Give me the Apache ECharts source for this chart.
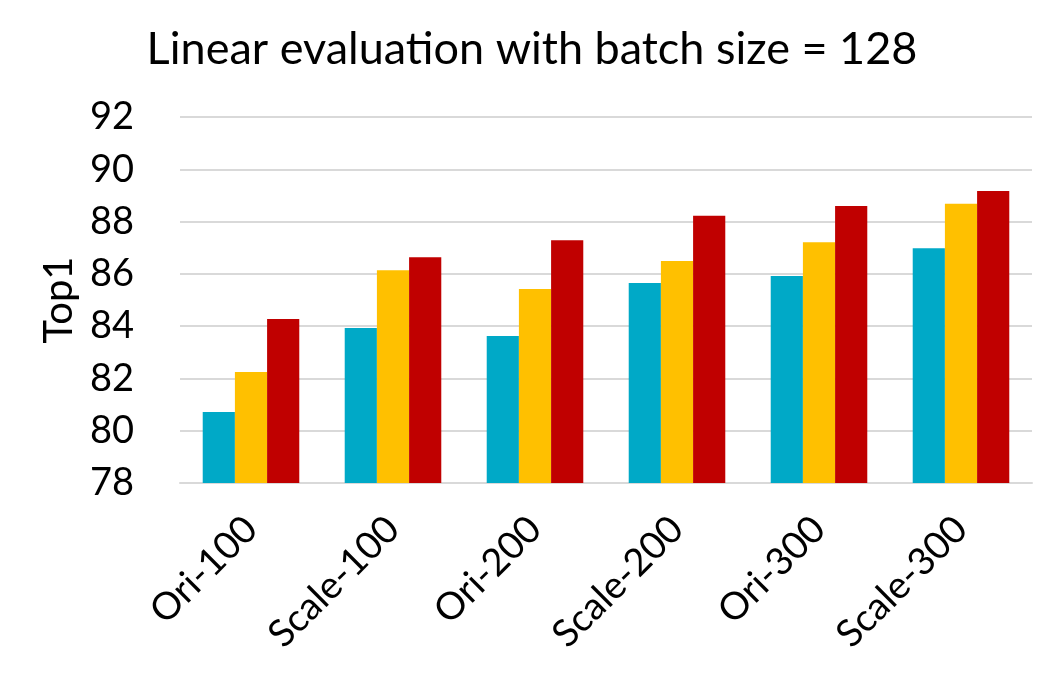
<!DOCTYPE html>
<html>
<head>
<meta charset="utf-8">
<script src="https://cdn.jsdelivr.net/npm/echarts@6/dist/echarts.min.js"></script>
<style>
  html, body { margin: 0; padding: 0; background: #fff; }
  #chart { width: 1064px; height: 675px; }
</style>
</head>
<body>
<div id="chart"></div>
<script>
// categories and values
const categories = ['Ori-100', 'Scale-100', 'Ori-200', 'Scale-200', 'Ori-300', 'Scale-300']
const seriesA = [80.72, 83.93, 83.62, 85.65, 85.92, 86.98]
const seriesB = [82.25, 86.14, 85.42, 86.49, 87.21, 88.68]
const seriesC = [84.27, 86.64, 87.29, 88.22, 88.60, 89.17]
const colors = ['#00A9C7', '#FFC000', '#C00000']

const fontFamily = 'Lato, "Noto Sans", sans-serif'

let chart = echarts.init(document.getElementById('chart'))
let option = {
  animation: false,
  title: {
    text: 'Linear evaluation with batch size = 128',
    left: 'center',
    top: 22,
    textStyle: { fontFamily: fontFamily, fontSize: 45, fontWeight: 'normal', color: '#000' }
  },
  grid: { left: 180, right: 32, top: 117, bottom: 192 },
  xAxis: {
    type: 'category',
    data: categories,
    axisLine: { lineStyle: { color: '#d9d9d9', width: 2 } },
    axisTick: { show: false },
    axisLabel: { rotate: 45, fontFamily: fontFamily, fontSize: 38, color: '#000', margin: 40 }
  },
  yAxis: {
    type: 'value',
    min: 78,
    max: 92,
    interval: 2,
    name: 'Top1',
    nameLocation: 'middle',
    nameGap: 100,
    nameTextStyle: { fontFamily: fontFamily, fontSize: 40, color: '#000' },
    axisLine: { show: false },
    axisTick: { show: false },
    axisLabel: { fontFamily: fontFamily, fontSize: 38, color: '#000', margin: 46 },
    splitLine: { lineStyle: { color: '#d9d9d9', width: 2 } }
  },
  series: [
    { type: 'bar', data: seriesA, itemStyle: { color: colors[0] }, barGap: '0%', barCategoryGap: '32%' },
    { type: 'bar', data: seriesB, itemStyle: { color: colors[1] } },
    { type: 'bar', data: seriesC, itemStyle: { color: colors[2] } }
  ]
}
chart.setOption(option)
</script>
</body>
</html>
